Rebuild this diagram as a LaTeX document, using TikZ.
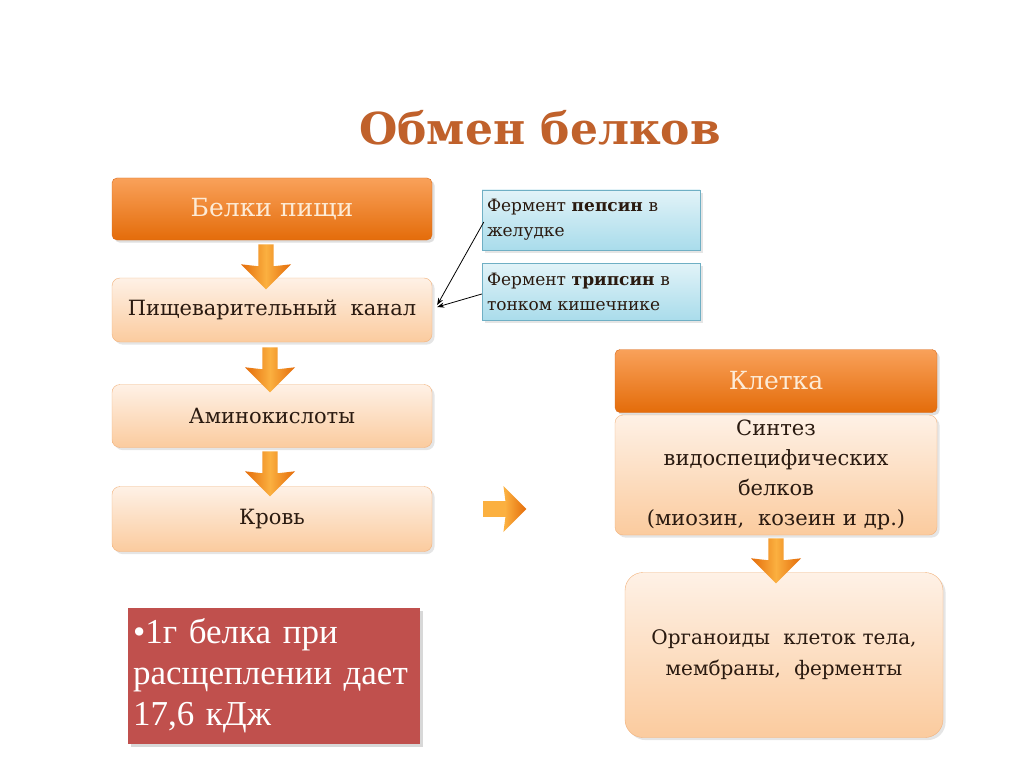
\documentclass[tikz,border=0pt]{standalone}
\usepackage{fontspec}
\setmainfont{DejaVu Serif}
\newfontfamily\factfont{Liberation Serif}
\usetikzlibrary{arrows.meta,shapes.arrows,shadows}
\definecolor{headtop}{HTML}{F9A15A}
\definecolor{headbot}{HTML}{E46C0A}
\definecolor{headline}{HTML}{D86A1C}
\definecolor{headtext}{HTML}{FDEBD6}
\definecolor{peachtop}{HTML}{FEF1E6}
\definecolor{peachbot}{HTML}{FBCB9E}
\definecolor{peachline}{HTML}{F2B27C}
\definecolor{bluetop}{HTML}{E2F3F8}
\definecolor{bluebot}{HTML}{A9DCEB}
\definecolor{blueline}{HTML}{6FAFC4}
\definecolor{titlecol}{HTML}{C0612B}
\definecolor{factred}{HTML}{C0504D}
\definecolor{darktext}{HTML}{2A1A10}
\definecolor{arrowmid}{HTML}{FBB040}
\begin{document}
\begin{tikzpicture}[x=1pt,y=1pt,
  headbox/.style={rectangle, rounded corners=5pt, draw=headline, top color=headtop, bottom color=headbot,
    text=headtext, font=\fontsize{25}{29}\selectfont, drop shadow={opacity=0.25}},
  stagebox/.style={rectangle, rounded corners=8pt, draw=peachline, top color=peachtop, bottom color=peachbot,
    text=darktext, font=\fontsize{21}{30}\selectfont, align=center, drop shadow={opacity=0.2}},
  enzbox/.style={rectangle, draw=blueline, top color=bluetop, bottom color=bluebot, text=darktext,
    font=\fontsize{17}{25}\selectfont, align=left, text width=208pt, minimum width=218pt, inner sep=5pt,
    drop shadow={opacity=0.2}},
  flowarrow/.style={single arrow, draw=none, left color=headbot, right color=headbot, middle color=arrowmid,
    minimum width=50pt, single arrow head extend=12pt, single arrow head indent=2pt, inner sep=5pt}]
\useasboundingbox (0,0) rectangle (1024,-767);
\fill[white] (0,0) rectangle (1024,-767);
% title
\node[text=titlecol, font=\bfseries\fontsize{44}{50}\selectfont] (title) at (540,-128) {Обмен белков};
% left column
\node[headbox, minimum width=320pt, minimum height=62pt] (food) at (272,-209) {Белки пищи};
\node[stagebox, minimum width=320pt, minimum height=64pt] (canal) at (272,-310) {Пищеварительный\ \ канал};
\node[stagebox, minimum width=320pt, minimum height=63pt] (amino) at (272,-416) {Аминокислоты};
\node[stagebox, minimum width=320pt, minimum height=65pt] (blood) at (272,-519) {Кровь};
\node[flowarrow, minimum height=45pt, shape border rotate=270] (arr1) at (266,-263) {};
\node[flowarrow, minimum height=45pt, shape border rotate=270] (arr2) at (270,-366) {};
\node[flowarrow, minimum height=45pt, shape border rotate=270] (arr3) at (270,-470) {};
% enzymes
\node[enzbox, minimum height=60pt] (pepsin) at (591,-220) {Фермент \textbf{пепсин} в\\желудке};
\node[enzbox, minimum height=57pt] (trypsin) at (591,-292) {Фермент \textbf{трипсин} в\\тонком кишечнике};
\draw[-{Stealth[length=7pt]}, thick] ([xshift=2pt,yshift=-2pt]pepsin.west) -- ([xshift=5pt,yshift=5pt]canal.east);
\draw[-{Stealth[length=7pt]}, thick] ([yshift=-2pt]trypsin.west) -- ([xshift=5pt,yshift=3pt]canal.east);
% to the cell
\node[flowarrow, minimum height=43pt, minimum width=46pt, single arrow head extend=10pt,
  left color=arrowmid, right color=headbot, middle color=arrowmid] (arr4) at (501,-509) {};
\node[headbox, minimum width=322pt, minimum height=63pt] (cell) at (776,-381) {Клетка};
\node[stagebox, minimum width=322pt, minimum height=120pt, text width=300pt] (synth) at (776,-475)
  {Синтез\\видоспецифических\\белков\\(миозин,\ \ козеин и др.)};
\node[stagebox, rounded corners=18pt, minimum width=318pt, minimum height=165pt, text width=300pt,
  font=\fontsize{20}{31}\selectfont] (organ) at (784,-655)
  {Органоиды\ \ клеток тела,\\мембраны,\ \ ферменты};
\node[flowarrow, minimum height=45pt, shape border rotate=270] (arr5) at (776,-557) {};
% fact
\node[rectangle, fill=factred, text=white, minimum width=292pt, minimum height=136pt, text width=282pt, align=left,
  font=\factfont\fontsize{35}{41}\selectfont, drop shadow={opacity=0.3}] (fact) at (274,-676)
  {\textbullet1г белка при\\расщеплении дает\\17,6 кДж};
\end{tikzpicture}
\end{document}
